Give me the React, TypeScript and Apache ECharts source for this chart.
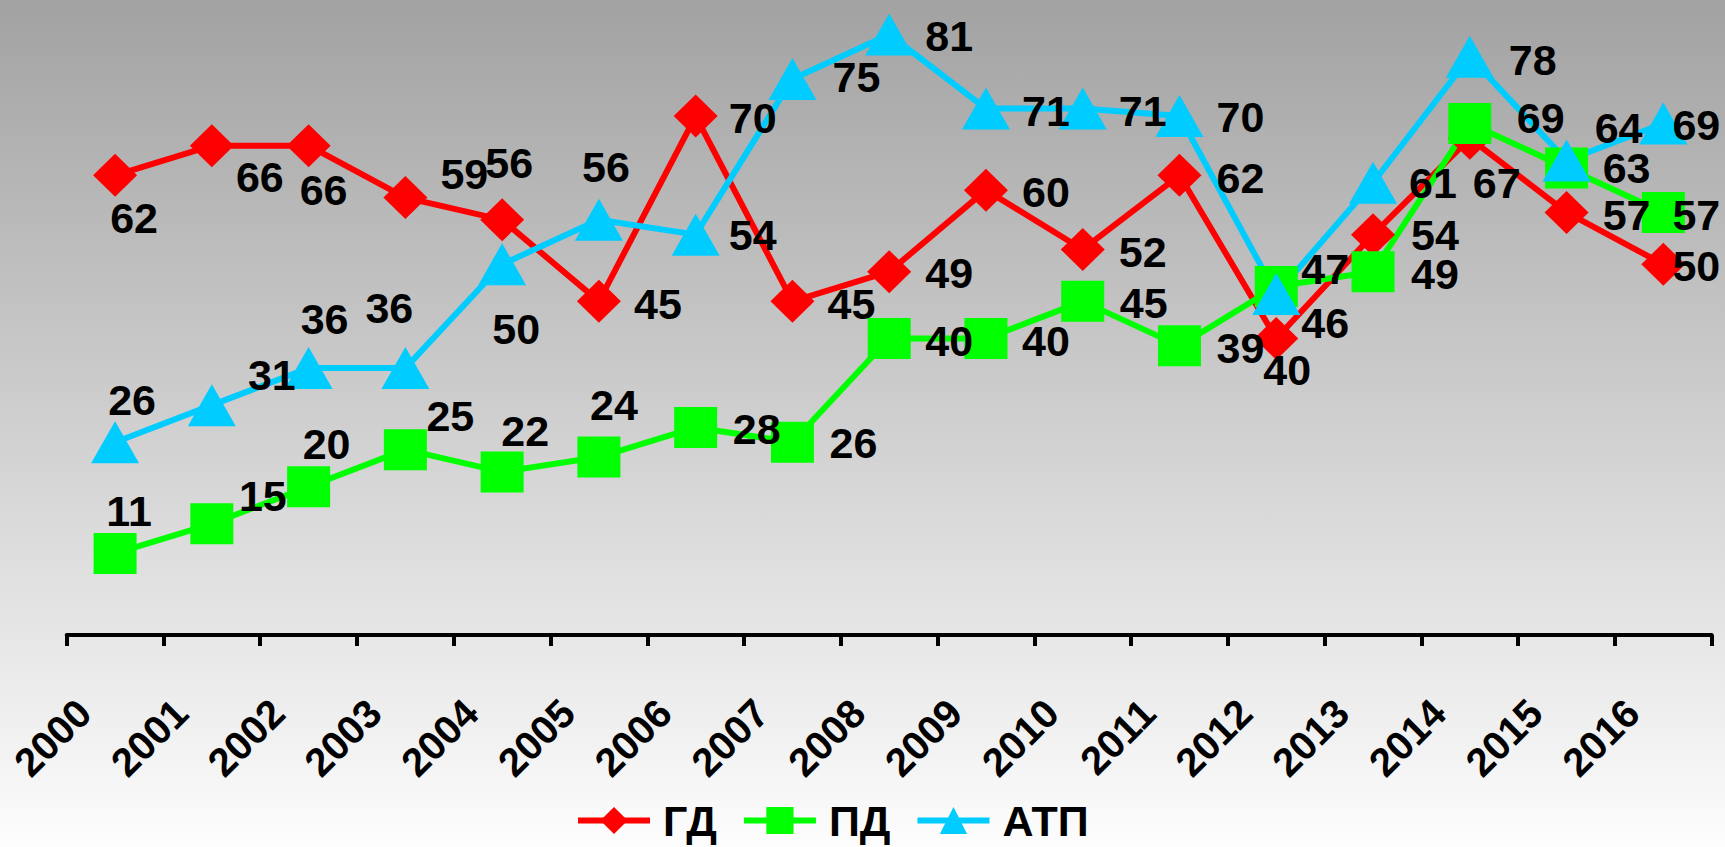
import React, { useEffect, useRef } from "react";
import * as echarts from "echarts";

const years = ["2000", "2001", "2002", "2003", "2004", "2005", "2006", "2007", "2008", "2009", "2010", "2011", "2012", "2013", "2014", "2015", "2016"];
const gdValues = [62, 66, 66, 59, 56, 45, 70, 45, 49, 60, 52, 62, 40, 54, 67, 57, 50];
const pdValues = [11, 15, 20, 25, 22, 24, 28, 26, 40, 40, 45, 39, 47, 49, 69, 63, 57];
const atpValues = [26, 31, 36, 36, 50, 56, 54, 75, 81, 71, 71, 70, 46, 61, 78, 64, 69];
const seriesNames = ["ГД", "ПД", "АТП"];

// label offsets (px) relative to each marker centre
const gdLabelOffsets = [[19, 43], [48, 31], [15, 44], [59, -24], [7, -57], [59, 3], [57, 2], [59, 3], [60, 1], [60, 2], [60, 3], [61, 3], [11, 32], [62, 0], [27, 45], [60, 3], [33, 2]];
const pdLabelOffsets = [[14, -42], [51, -28], [18, -43], [45, -34], [23, -41], [15, -52], [61, 2], [61, 1], [60, 3], [60, 3], [61, 2], [61, 2], [49, -18], [62, 2], [71, -5], [60, 0], [33, 3]];
const atpLabelOffsets = [[17, -42], [60, -30], [16, -49], [-16, -60], [14, 65], [7, -53], [57, 0], [64, -2], [60, 2], [60, 2], [60, 2], [61, 1], [49, 29], [60, 0], [63, 3], [52, -33], [33, 2]];

export default function App() {
  const ref = useRef<HTMLDivElement>(null);
  useEffect(() => {
    const chart = echarts.init(ref.current!, null, { renderer: "svg" });
    const font = "'Liberation Sans', Arial, sans-serif";
    const mk = (name: string, values: number[], offsets: number[][], color: string, symbol: string, size: number[]) => ({
      type: "line",
      name,
      symbol,
      symbolSize: size,
      clip: false,
      lineStyle: { color, width: 6 },
      itemStyle: { color },
      emphasis: { disabled: true },
      label: {
        show: true,
        position: "inside",
        color: "#000",
        fontSize: 43,
        fontWeight: "bold",
        fontFamily: font,
        align: "center",
        verticalAlign: "middle",
      },
      data: values.map((v, i) => ({ value: v, label: { offset: offsets[i] } })),
    });
    chart.setOption({
      animation: false,
      backgroundColor: {
        type: "linear",
        x: 0,
        y: 0,
        x2: 0,
        y2: 1,
        colorStops: [
          { offset: 0, color: "#a2a2a2" },
          { offset: 1, color: "#fdfdfd" },
        ],
      },
      grid: { left: 66.7, right: 13.3, top: 0, bottom: 212 },
      xAxis: {
        type: "category",
        data: years,
        boundaryGap: true,
        axisLine: { lineStyle: { color: "#000", width: 4 } },
        axisTick: { show: true, length: 11, lineStyle: { color: "#000", width: 4 } },
        splitLine: { show: false },
        axisLabel: {
          interval: 0,
          rotate: 45,
          margin: 40,
          padding: [0, 44, 0, 0],
          fontSize: 40,
          fontWeight: "bold",
          color: "#000",
          fontFamily: font,
        },
      },
      yAxis: { type: "value", min: 0, max: 85.65, show: false },
      legend: {
        left: 570,
        top: 794,
        itemWidth: 72,
        itemHeight: 34,
        itemGap: 24,
        data: seriesNames,
        lineStyle: { width: 6 },
        textStyle: { fontSize: 43, fontWeight: "bold", color: "#000", fontFamily: font, padding: [0, 0, 0, 8] },
      },
      series: [
        mk(seriesNames[0], gdValues, gdLabelOffsets, "#ff0000", "diamond", [44, 43]),
        mk(seriesNames[1], pdValues, pdLabelOffsets, "#00ff00", "rect", [43, 41]),
        mk(seriesNames[2], atpValues, atpLabelOffsets, "#00ccff", "triangle", [48, 42]),
      ],
    });
    return () => chart.dispose();
  }, []);
  return <div ref={ref} style={{ position: "absolute", left: 0, top: 0, width: 1725, height: 847 }} />;
}
